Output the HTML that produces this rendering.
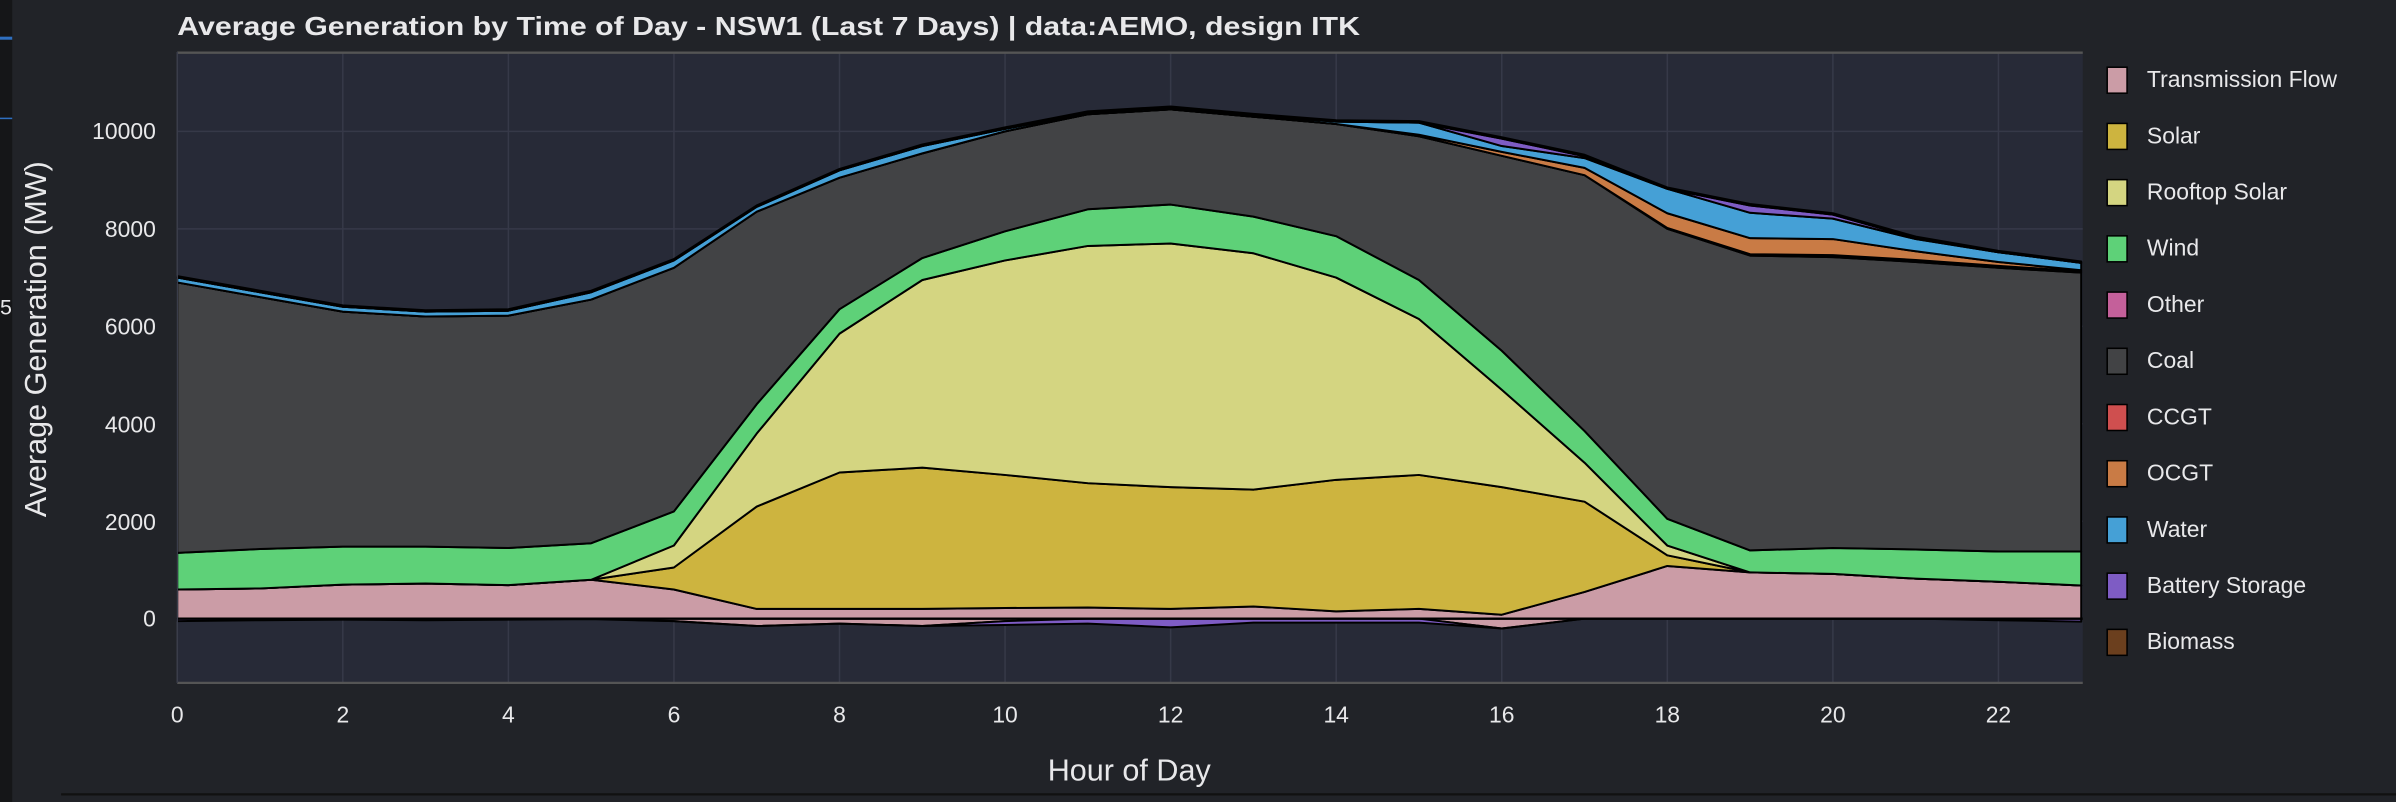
<!DOCTYPE html>
<html><head><meta charset="utf-8"><style>
html,body{margin:0;padding:0;background:#212328;}
svg{display:block}
text{font-family:"Liberation Sans",Arial,sans-serif;fill:#e8e8ea}
</style></head><body>
<svg id="c" width="2396" height="802" viewBox="0 0 1568 525" preserveAspectRatio="none" xmlns="http://www.w3.org/2000/svg">
<rect x="0" y="0" width="1568" height="525" fill="#212328"/>
<rect x="0" y="0" width="8" height="525" fill="#151618"/>
<rect x="0" y="24" width="8" height="2" fill="#2f6fc0"/>
<rect x="0" y="77" width="8" height="1" fill="#2f6fc0"/>
<text x="0" y="206" font-size="14">5</text>
<rect x="116" y="34" width="1247" height="413" fill="#272a37"/>
<g id="grid" stroke="#363948" stroke-width="1"></g>
<g id="areas"></g>
<line x1="116" y1="34.5" x2="1363" y2="34.5" stroke="#555" stroke-width="1.5"/>
<line x1="116" y1="447" x2="1363" y2="447" stroke="#555" stroke-width="1.5"/>
<line x1="116" y1="34" x2="116" y2="447" stroke="#3a3d4a" stroke-width="1"/>
<line x1="40" y1="520" x2="1568" y2="520" stroke="#111" stroke-width="1.5"/>
<text x="116" y="23" font-size="17" font-weight="bold" textLength="774" lengthAdjust="spacingAndGlyphs">Average Generation by Time of Day - NSW1 (Last 7 Days) | data:AEMO, design ITK</text>
<g font-size="15" text-anchor="end">
<text x="102" y="410">0</text><text x="102" y="347">2000</text><text x="102" y="283">4000</text>
<text x="102" y="219">6000</text><text x="102" y="155">8000</text><text x="102" y="91">10000</text>
</g>
<g id="xt" font-size="15" text-anchor="middle"></g>
<text x="739" y="511" font-size="20" text-anchor="middle">Hour of Day</text>
<text transform="translate(30,222) rotate(-90)" font-size="20" text-anchor="middle">Average Generation (MW)</text>
<g id="leg" font-size="15"></g>
</svg>
<script>
var X=function(h){return 116+h*54.174;},Y=function(v){return 405-v*0.0319;};
var S=[
["Transmission Flow","#cb9ca6",[600,620,700,720,690,800,600,200,200,200,220,230,200,250,150,200,80,550,1080,950,920,820,760,680]],
["Solar","#cdb43f",[0,0,0,0,0,0,450,2100,2800,2900,2730,2550,2500,2400,2700,2750,2620,1850,220,0,0,0,0,0]],
["Rooftop Solar","#d4d581",[0,0,0,0,0,0,450,1500,2850,3850,4400,4870,5000,4850,4150,3200,2000,800,200,0,0,0,0,0]],
["Wind","#5ed178",[750,810,780,760,760,750,700,600,500,450,600,750,800,750,850,800,800,650,550,450,530,600,620,700]],
["Other","#c4609a",[0,0,0,0,0,0,0,0,0,0,0,0,0,0,0,0,0,0,0,0,0,0,0,0]],
["Coal","#424345",[5550,5170,4820,4720,4770,5000,5000,3950,2700,2150,2050,1950,1950,2050,2300,2950,4000,5250,5950,6050,5970,5900,5820,5720]],
["CCGT","#cf4f4f",[0,0,0,0,0,0,0,0,0,0,0,0,0,0,0,0,0,0,20,30,40,40,40,30]],
["OCGT","#c97b45",[0,0,0,0,0,0,0,0,0,0,0,0,0,0,0,30,80,150,300,330,330,180,80,20]],
["Water","#45a0d6",[100,100,100,100,100,150,150,100,150,150,50,30,30,30,50,250,120,200,500,520,420,250,200,150]],
["Battery Storage","#7e5cc4",[0,0,0,0,0,0,0,0,0,0,0,0,0,0,0,0,150,40,0,150,80,20,0,0]],
["Biomass","#6b3f1e",[30,30,30,30,30,30,30,30,30,30,30,30,30,30,30,30,30,30,30,30,30,30,30,30]]];
var NEG=[["#cb9ca6",[0,0,0,0,0,0,-50,-150,-100,-150,-50,0,0,0,0,0,-200,0,0,0,0,0,0,0]],
["#7e5cc4",[-50,-30,-20,-30,-20,-10,0,0,0,0,-80,-100,-180,-80,-80,-80,0,0,0,0,0,0,-30,-60]]];
var ns="http://www.w3.org/2000/svg",A=document.getElementById("areas");
function area(base,top,col){var d="M";for(var h=0;h<24;h++)d+=X(h).toFixed(1)+","+Y(top[h]).toFixed(1)+" L";
for(var h=23;h>=0;h--)d+=X(h).toFixed(1)+","+Y(base[h]).toFixed(1)+(h?" L":" Z");
var p=document.createElementNS(ns,"path");p.setAttribute("d",d);p.setAttribute("fill",col);p.setAttribute("stroke","#000");p.setAttribute("stroke-width","1.3");p.setAttribute("stroke-linejoin","round");A.appendChild(p);}
var g=document.getElementById("grid");
for(var h=0;h<=22;h+=2){var l=document.createElementNS(ns,"line");l.setAttribute("x1",X(h));l.setAttribute("x2",X(h));l.setAttribute("y1",34);l.setAttribute("y2",447);g.appendChild(l);
var t=document.createElementNS(ns,"text");t.setAttribute("x",X(h));t.setAttribute("y",473);t.textContent=h;document.getElementById("xt").appendChild(t);}
for(var v=0;v<=10000;v+=2000){var l=document.createElementNS(ns,"line");l.setAttribute("x1",116);l.setAttribute("x2",1363);l.setAttribute("y1",Y(v));l.setAttribute("y2",Y(v));g.appendChild(l);}
var base=new Array(24).fill(0);
S.forEach(function(s){var top=base.map(function(b,i){return b+s[2][i];});if(s[2].some(function(v){return v>0;}))area(base,top,s[1]);base=top;});
var nb=new Array(24).fill(0);
NEG.forEach(function(s){var top=nb.map(function(b,i){return b+s[1][i];});area(nb,top,s[0]);nb=top;});
var z=document.createElementNS(ns,"line");z.setAttribute("x1",116);z.setAttribute("x2",1363);z.setAttribute("y1",Y(0));z.setAttribute("y2",Y(0));z.setAttribute("stroke","#000");z.setAttribute("stroke-width","1.5");A.appendChild(z);
var L=document.getElementById("leg");
S.forEach(function(s,i){var y=52+i*36.8;var r=document.createElementNS(ns,"rect");r.setAttribute("x",1379);r.setAttribute("y",y-8);r.setAttribute("width",13);r.setAttribute("height",17);r.setAttribute("fill",s[1]);r.setAttribute("stroke","#000");r.setAttribute("stroke-width","1");L.appendChild(r);
var t=document.createElementNS(ns,"text");t.setAttribute("x",1405);t.setAttribute("y",y+5);t.textContent=s[0];L.appendChild(t);});
</script>
</body></html>
